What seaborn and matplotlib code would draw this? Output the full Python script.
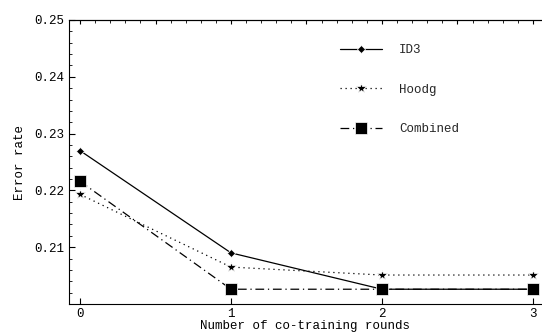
import matplotlib
matplotlib.use("Agg")
import matplotlib.pyplot as plt
import seaborn as sns
import pandas as pd
from matplotlib.ticker import MultipleLocator

rounds = [0, 1, 2, 3]
id3 = [0.2270, 0.2090, 0.2026, 0.2026]
hoodg = [0.2193, 0.2065, 0.2051, 0.2051]
combined = [0.2216, 0.2026, 0.2026, 0.2026]
series_names = ["ID3", "Hoodg", "Combined"]

df = pd.DataFrame({
    "round": rounds * 3,
    "err": id3 + hoodg + combined,
    "series": sum([[n] * len(rounds) for n in series_names], []),
})

sns.set_theme(style="white")
plt.rcParams["font.family"] = ["Liberation Mono", "DejaVu Sans Mono"]

fig = plt.figure(figsize=(5.42, 3.35), dpi=100)
ax = fig.add_axes([69/542, 31/335, 1 - 69/542, 284/335])

sns.lineplot(data=df, x="round", y="err", hue="series", style="series",
             palette={n: "black" for n in series_names},
             markers={"ID3": "D", "Hoodg": "*", "Combined": "s"},
             dashes={"ID3": "", "Hoodg": (1, 3), "Combined": (7, 3, 1, 3)},
             linewidth=0.9, markersize=6, markeredgewidth=0.5,
             ax=ax, legend=True)

def fix_markers(lines):
    for line in lines:
        m = line.get_marker()
        if m == "s":
            line.set_markersize(8)
        elif m == "*":
            line.set_markersize(7)
        elif m == "D":
            line.set_markersize(4.5)

fix_markers(ax.lines)

ax.set_xlim(-0.073, 3.06)
ax.set_ylim(0.2, 0.25)
ax.set_xticks(rounds)
ax.set_xticklabels([str(r) for r in rounds])
ax.set_yticks([0.21, 0.22, 0.23, 0.24, 0.25])
ax.set_yticklabels(["0.21", "0.22", "0.23", "0.24", "0.25"])
ax.yaxis.set_minor_locator(MultipleLocator(0.002))
ax.tick_params(axis="both", which="both", direction="in", labelsize=9, colors="black",
               left=True, bottom=True)
ax.tick_params(axis="y", which="major", length=4, width=0.8)
ax.tick_params(axis="y", which="minor", length=2, width=0.6)
ax.tick_params(axis="x", which="major", length=4, width=0.8, pad=3)

for s in ["left", "bottom", "top"]:
    ax.spines[s].set_color("black")
    ax.spines[s].set_linewidth(0.8)
ax.spines["right"].set_visible(False)

top = ax.twiny()
top.set_xlim(ax.get_xlim())
top.xaxis.set_major_locator(MultipleLocator(0.5))
top.xaxis.set_minor_locator(MultipleLocator(0.1))
top.tick_params(axis="x", which="both", direction="in", labeltop=False, top=True, colors="black")
top.tick_params(axis="x", which="major", length=3, width=0.8)
top.tick_params(axis="x", which="minor", length=2, width=0.6)
for s in ["left", "right", "bottom"]:
    top.spines[s].set_visible(False)
top.spines["top"].set_color("black")
top.spines["top"].set_linewidth(0.8)

ax.set_xlabel("Number of co-training rounds", fontsize=9, labelpad=0, color="black")
ax.set_ylabel("Error rate", fontsize=9, labelpad=6, color="black")

leg = ax.legend(loc="upper left", bbox_to_anchor=(0.55, 0.955), frameon=False,
                fontsize=9, labelspacing=2.2, handlelength=3.3, handletextpad=1.4)
leg.set_title(None)
fix_markers(leg.get_lines())

fig.savefig("out.png", dpi=100)
